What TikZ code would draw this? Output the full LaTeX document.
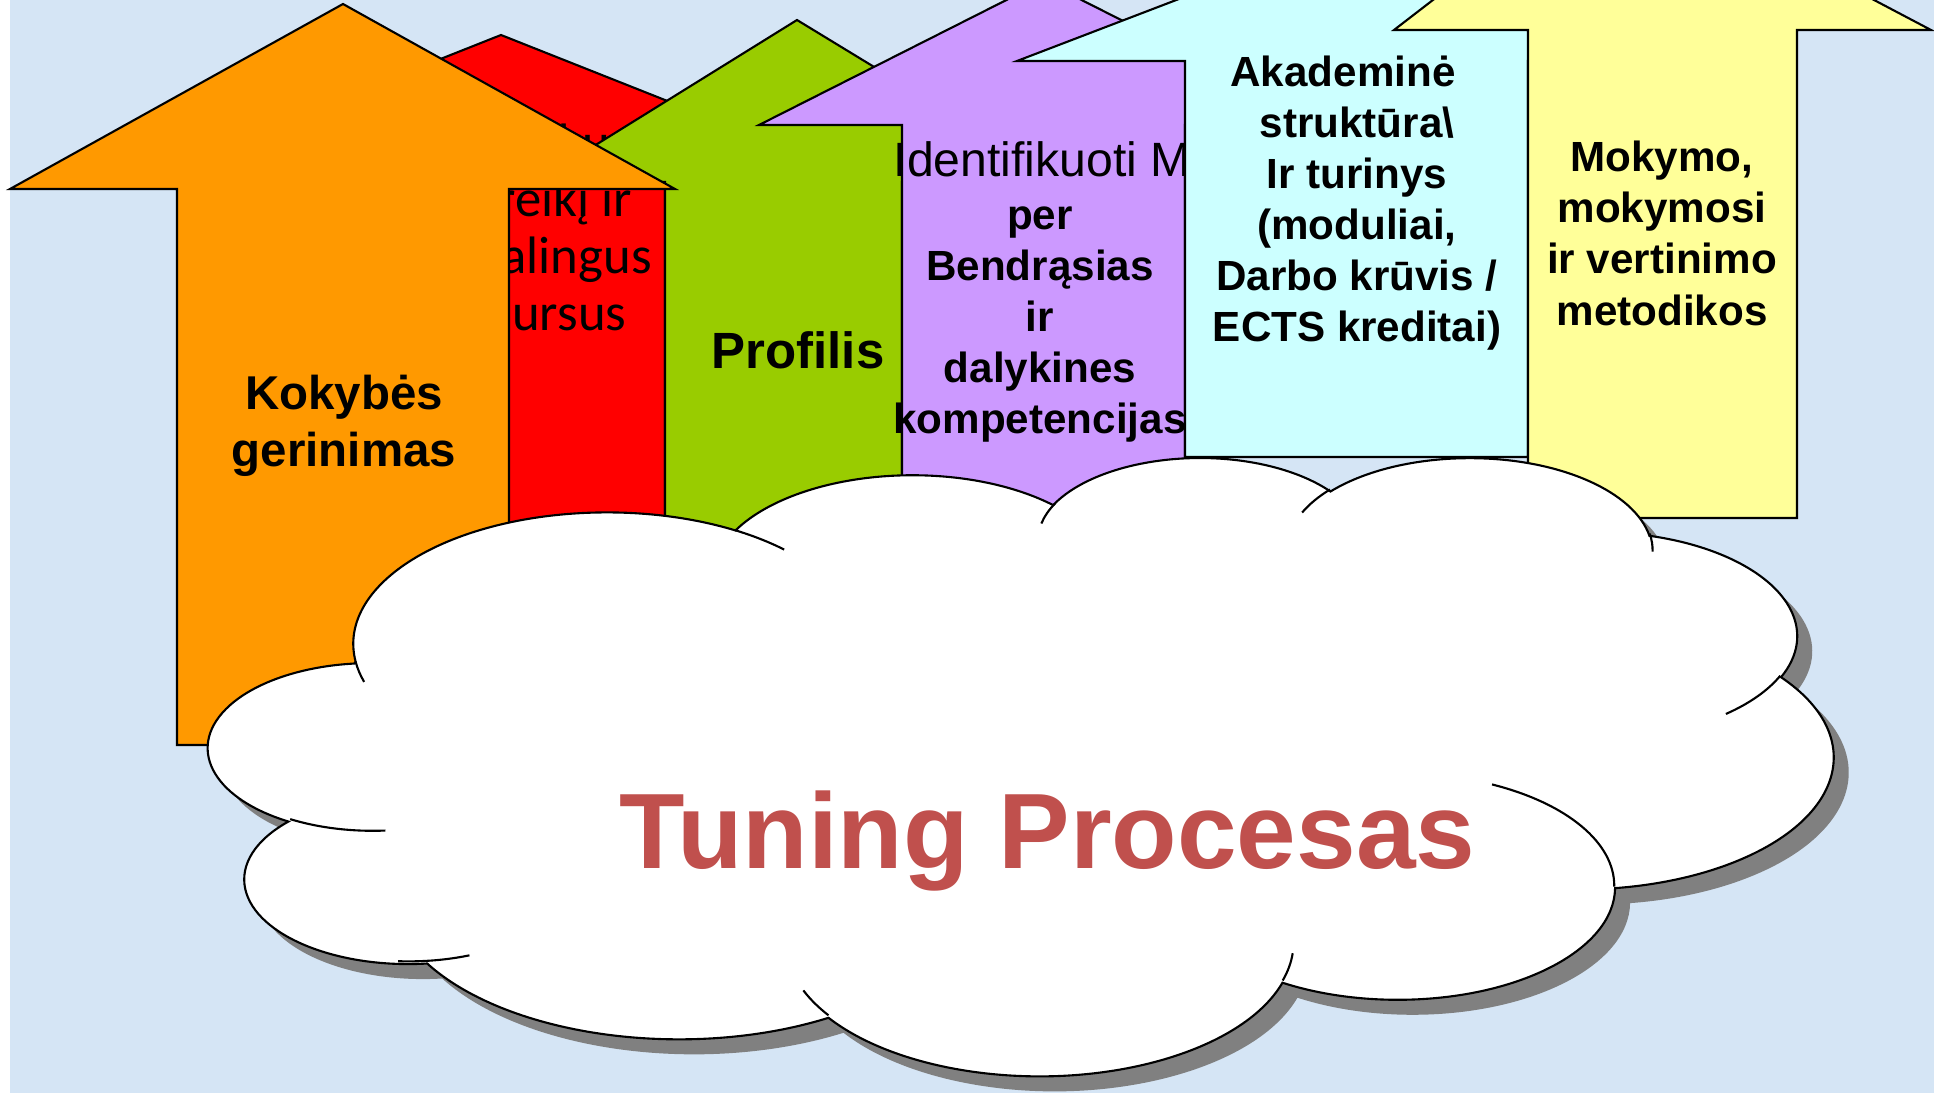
\documentclass[tikz,border=0pt]{standalone}
\usepackage{fontspec}
\setmainfont{Liberation Sans}
\newfontfamily\calibrifont{Carlito}
\definecolor{bgblue}{RGB}{213,229,245}
\definecolor{arroworange}{RGB}{255,153,0}
\definecolor{arrowred}{RGB}{255,0,0}
\definecolor{arrowgreen}{RGB}{153,204,0}
\definecolor{arrowviolet}{RGB}{204,153,255}
\definecolor{arrowcyan}{RGB}{204,255,255}
\definecolor{arrowyellow}{RGB}{255,255,153}
\definecolor{tuningred}{RGB}{192,80,77}
\definecolor{cloudgray}{RGB}{128,128,128}
\newcommand\cloudbump[4]{arc[x radius=#1,y radius=#2,start angle={atan2(#1*sin(#3),#2*cos(#3))},delta angle={mod(atan2(#1*sin(#3+#4),#2*cos(#3+#4))-atan2(#1*sin(#3),#2*cos(#3))+720,360)}]}
\newcommand\cloudoutline{(390,1437)
 \cloudbump{675.3}{919}{-190.4875}{123.7805}
 \cloudbump{533.3}{726.7}{-144.1024}{89.9452}
 \cloudbump{436.5}{594.5}{-145.8079}{99.7230}
 \cloudbump{485.7}{659.5}{-130.9861}{117.2417}
 \cloudbump{533.3}{727.3}{-78.7089}{109.0269}
 \cloudbump{677.5}{922}{-46.2673}{130.2690}
 \cloudbump{578.5}{786.7}{0.6250}{114.0333}
 \cloudbump{675.2}{921.5}{22.4516}{115.1726}
 \cloudbump{772}{1054.3}{66.2426}{75.7110}
 \cloudbump{436}{591.8}{-274.9421}{146.7356}
 \cloudbump{434.5}{594.5}{-246.8285}{152.5189}-- cycle}

\begin{document}
\begin{tikzpicture}[x=0.1mm,y=-0.1mm,
  arrowline/.style={line width=0.6pt,line join=miter},
  arrowtext/.style={anchor=base,align=center,inner sep=0pt},
  cloudline/.style={line width=0.6pt}]
\useasboundingbox (0,0) rectangle (1934,1093);
\clip(0,0) rectangle (1934,1093);
\fill [white] (0,0) rectangle (1934,1093);
\fill [bgblue] (10,0) rectangle (1934,1093);
\draw [arrowline,fill=arrowred] (501,35)-- (791,150)-- (665,150)-- (665,700)-- (336,700)-- (336,150)-- (211,150)-- cycle;
\draw (537,330) node[arrowtext,font=\calibrifont\fontsize{15}{16.1}\selectfont] (poreikis) {Identifikuoti\\poreikį ir\\reikalingus\\resursus};
\draw [arrowline,fill=arrowgreen] (797,20)-- (1063,182)-- (902,182)-- (902,700)-- (665,700)-- (665,182)-- (536,182)-- cycle;
\draw (798,368) node[arrowtext,font=\fontsize{14.5}{17}\selectfont\bfseries] (profilis) {Profilis};
\draw [arrowline,fill=arroworange] (343,4)-- (675,189)-- (509,189)-- (509,745)-- (177,745)-- (177,189)-- (10,189)-- cycle;
\draw (344,466) node[arrowtext,font=\fontsize{13.5}{16.2}\selectfont\bfseries] (kokybe) {Kokybės\\gerinimas};
\draw [arrowline,fill=arrowviolet] (1044,-19)-- (1329,125)-- (1185,125)-- (1185,600)-- (902,600)-- (902,125)-- (759,125)-- cycle;
\draw (893,177) node[anchor=base west,inner sep=0pt,font=\fontsize{13.7}{16}\selectfont] (identifikuoti) {Identifikuoti M};
\draw (1040,433) node[arrowtext,font=\fontsize{12}{14.5}\selectfont\bfseries] (kompetencijos) {per\\Bendrąsias\\ir\\dalykines\\kompetencijas};
\draw [arrowline,fill=arrowcyan] (1356.5,-69)-- (1696,61)-- (1528,61)-- (1528,457)-- (1185,457)-- (1185,61)-- (1017,61)-- cycle;
\draw (1357,341) node[arrowtext,font=\fontsize{12}{14.5}\selectfont\bfseries] (struktura) {Akademinė\hspace*{2.8mm}\\struktūra\textbackslash\\Ir turinys\\(moduliai,\\Darbo krūvis /\\ECTS kreditai)};
\draw [arrowline,fill=arrowyellow] (1612,-138)-- (1931,30)-- (1797,30)-- (1797,518)-- (1528,518)-- (1528,30)-- (1394,30)-- cycle;
\draw (1662,325) node[arrowtext,font=\fontsize{12}{14.6}\selectfont\bfseries] (metodikos) {Mokymo,\\mokymosi\\ir vertinimo\\metodikos};
\begin{scope}[shift={(224,471)},x=0.037602mm,y=-0.014319mm]
\fill [cloudgray] \cloudoutline;
\end{scope}
\begin{scope}[shift={(209,456)},x=0.037602mm,y=-0.014319mm]
\draw [cloudline,fill=white] \cloudoutline;
\draw [cloudline] (469.3,2617.7) \cloudbump{434.5}{594.5}{86.742}{26.4295}
 (692.8,3489.9) \cloudbump{436}{591.8}{73.6105}{19.1381}
 (1647.8,3909) \cloudbump{675.2}{921.5}{137.6242}{14.0811}
 (2882.7,3475.1) \cloudbump{675.2}{921.5}{6.4533}{15.9984}
 (3412.9,2295.4) \cloudbump{578.5}{786.7}{-70.2924}{70.9174}
 (4179.8,1535.4) \cloudbump{533.3}{727.3}{30.3180}{27.7515}
 (3832.4,542.6) \cloudbump{485.7}{659.5}{-13.7443}{14.8589}
 (2907.8,395.2) \cloudbump{485.7}{659.5}{-149.1815}{18.1954}
 (2214.1,472) \cloudbump{436.5}{594.5}{-163.4943}{17.6864}
 (1400,519.2) \cloudbump{675.3}{919}{-66.7070}{12.3194}
 (412.7,1578.9) \cloudbump{675.3}{919}{157.6544}{11.8582};
\end{scope}
\draw (1047.5,868) node[anchor=base,inner sep=0pt,font=\fontsize{30.5}{36}\selectfont\bfseries,text=tuningred] (tuning) {Tuning Procesas};
\end{tikzpicture}
\end{document}
